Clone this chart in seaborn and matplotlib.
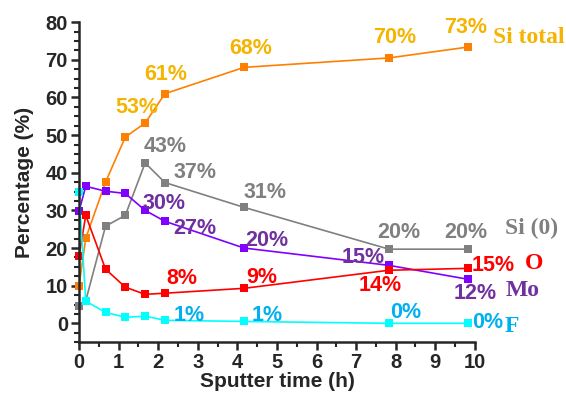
import numpy as np
import pandas as pd
import seaborn as sns
import matplotlib.pyplot as plt
from matplotlib.ticker import MultipleLocator

# sputter time (h)
time = [0, 0.17, 0.67, 1.17, 1.67, 2.17, 4.17, 7.83, 9.83]

si_total = [10, 22.6, 37.5, 49.5, 53.2, 61, 68, 70.5, 73.4]
si_0 = [4.5, 6, 25.8, 28.7, 42.6, 37.4, 30.8, 19.7, 19.7]
mo = [29.8, 36.4, 35.1, 34.5, 30, 27.1, 20, 15.4, 11.7]
o = [17.8, 28.7, 14.4, 9.6, 7.7, 8, 9.3, 14.1, 14.6]
f = [35, 5.9, 2.9, 1.6, 1.9, 0.8, 0.5, 0, 0]

names = ['Si total', 'Si (0)', 'Mo', 'O', 'F']

# percent labels: (point index, text)
lab_si_total = [(4, '53%'), (5, '61%'), (6, '68%'), (7, '70%'), (8, '73%')]
lab_si_0 = [(4, '43%'), (5, '37%'), (6, '31%'), (7, '20%'), (8, '20%')]
lab_mo = [(4, '30%'), (5, '27%'), (6, '20%'), (7, '15%'), (8, '12%')]
lab_o = [(5, '8%'), (6, '9%'), (7, '14%'), (8, '15%')]
lab_f = [(5, '1%'), (6, '1%'), (7, '0%'), (8, '0%')]

df = pd.DataFrame({
    'time': time * 5,
    'pct': si_total + si_0 + mo + o + f,
    'series': np.repeat(names, len(time)),
})

line_col = {'Si total': '#FF8000', 'Si (0)': '#808080', 'Mo': '#8000FF',
            'O': '#FF0000', 'F': '#00FFFF'}
text_col = {'Si total': '#F5B400', 'Si (0)': '#808080', 'Mo': '#7030A0',
            'O': '#FF0000', 'F': '#00B0F0'}

# label offsets in pixels (dx right, dy down) from the point
off_pct = {
    'Si total': [(-8, -16), (1, -19), (7, -19), (6, -20), (-3, -20)],
    'Si (0)': [(20, -16), (30, -10), (21, -15), (10, -17), (-2, -17)],
    'Mo': [(19, -7), (30, 7), (23, -8), (-26, -8), (7, 14)],
    'O': [(17, -15), (18, -11), (-9, 15), (25, -3)],
    'F': [(24, -5), (23, -6), (17, -11), (20, -1)],
}
off_name = {'Si total': (61, -10), 'Si (0)': (63, -21), 'Mo': (54, 11),
            'O': (66, -5), 'F': (44, 3)}

sns.set_style('ticks')
plt.rcParams['font.family'] = ['Liberation Sans', 'DejaVu Sans']

fig, ax = plt.subplots(figsize=(5.66, 3.96), dpi=100)
fig.subplots_adjust(left=0.1396, right=0.839, top=0.944, bottom=0.136)

sns.lineplot(data=df, x='time', y='pct', hue='series', palette=line_col,
             marker='s', markersize=5.8, markeredgewidth=0, linewidth=1.2,
             legend=False, ax=ax, clip_on=False)

pct_font = dict(family=['Liberation Sans', 'DejaVu Sans'],
                fontsize=15.5, fontweight='bold')
name_font = dict(family=['Liberation Serif', 'DejaVu Serif'],
                 fontsize=17, fontweight='bold')

vals = {'Si total': si_total, 'Si (0)': si_0, 'Mo': mo, 'O': o, 'F': f}
labs = {'Si total': lab_si_total, 'Si (0)': lab_si_0, 'Mo': lab_mo,
        'O': lab_o, 'F': lab_f}
for s in names:
    for (i, t), (dx, dy) in zip(labs[s], off_pct[s]):
        ax.annotate(t, (time[i], vals[s][i]), xytext=(dx, -dy),
                    textcoords='offset pixels', ha='center', va='center',
                    color=text_col[s], annotation_clip=False, **pct_font)
    dx, dy = off_name[s]
    ax.annotate(s, (time[-1], vals[s][-1]), xytext=(dx, -dy),
                textcoords='offset pixels', ha='center', va='center',
                color=text_col[s], annotation_clip=False, **name_font)

ax.set_xlim(0, 10)
ax.set_ylim(-5, 80)
ax.xaxis.set_major_locator(MultipleLocator(1))
ax.xaxis.set_minor_locator(MultipleLocator(0.5))
ax.yaxis.set_major_locator(MultipleLocator(10))
ax.yaxis.set_minor_locator(MultipleLocator(2.5))
ax.set_yticks(range(0, 81, 10))
ax.tick_params(which='major', length=6, width=1.8, labelsize=14.5, pad=2)
ax.tick_params(which='minor', length=3.5, width=1.5)
for lbl in ax.get_xticklabels() + ax.get_yticklabels():
    lbl.set_fontweight('bold')
for sp in ['left', 'bottom']:
    ax.spines[sp].set_linewidth(1.8)
sns.despine(ax=ax)

ax.set_xlabel('Sputter time (h)', fontsize=15, fontweight='bold', labelpad=0)
ax.set_ylabel('Percentage (%)', fontsize=15, fontweight='bold', labelpad=8)

plt.savefig('out.png', dpi=100)
